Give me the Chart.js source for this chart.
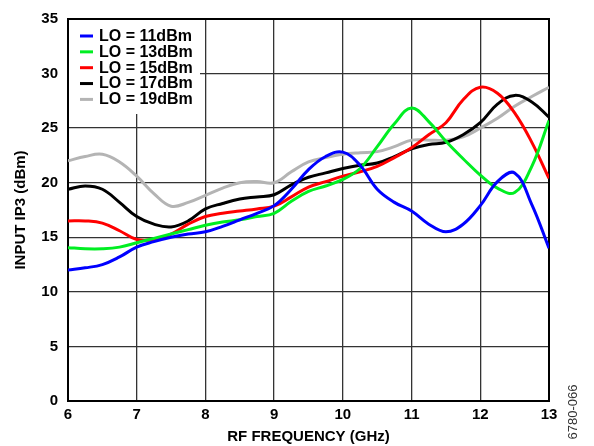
<!DOCTYPE html>
<html>
<head>
<meta charset="utf-8">
<script src="https://cdn.jsdelivr.net/npm/chart.js@4.4.1/dist/chart.umd.min.js"></script>
<style>
  body { margin: 0; background: #fff; }
  #wrap { width: 594px; height: 446px; }
</style>
</head>
<body>
<div id="wrap"><canvas id="ip3Chart" width="594" height="446"></canvas></div>
<script>
// RF frequency points (GHz)
var freqs = [6, 6.25, 6.5, 6.75, 7, 7.25, 7.5, 7.75, 8, 8.25, 8.5, 8.75, 9, 9.25, 9.5,
             9.75, 10, 10.25, 10.5, 10.75, 11, 11.25, 11.5, 11.75, 12, 12.25, 12.5, 12.75, 13];

// input IP3 (dBm) per LO level
var lo11 = [12.0, 12.2, 12.5, 13.2, 14.1, 14.6, 15.0, 15.3, 15.5, 16.0, 16.6, 17.2, 17.9, 19.4, 21.2,
            22.4, 22.8, 21.6, 19.4, 18.2, 17.4, 16.2, 15.5, 16.2, 17.9, 20.1, 20.9, 18.0, 14.0];
var lo13 = [14.05, 13.95, 13.95, 14.1, 14.5, 14.9, 15.3, 15.7, 16.1, 16.4, 16.6, 16.9, 17.2, 18.3, 19.2,
            19.7, 20.3, 21.3, 23.3, 25.4, 26.85, 25.6, 23.8, 22.2, 20.7, 19.5, 19.1, 21.5, 25.7];
var lo15 = [16.5, 16.5, 16.3, 15.6, 14.8, 14.8, 15.3, 16.2, 16.9, 17.2, 17.4, 17.6, 17.85, 18.7, 19.6,
            20.1, 20.6, 21.0, 21.5, 22.3, 23.2, 24.4, 25.5, 27.6, 28.75, 28.2, 26.4, 23.7, 20.4];
var lo17 = [19.4, 19.7, 19.4, 18.2, 16.9, 16.2, 15.95, 16.5, 17.6, 18.1, 18.5, 18.7, 18.9, 19.8, 20.5,
            20.9, 21.3, 21.6, 21.8, 22.4, 23.1, 23.5, 23.7, 24.4, 25.5, 27.2, 28.0, 27.4, 26.0];
var lo19 = [22.0, 22.4, 22.6, 21.9, 20.6, 19.0, 17.85, 18.2, 18.85, 19.5, 20.0, 20.1, 20.0, 21.0, 21.9,
            22.3, 22.6, 22.75, 22.85, 23.3, 23.9, 23.9, 23.9, 24.2, 25.0, 25.9, 27.0, 27.9, 28.75];

var seriesLabels = ['LO = 11dBm', 'LO = 13dBm', 'LO = 15dBm', 'LO = 17dBm', 'LO = 19dBm'];
var seriesColors = ['#0000ff', '#00ee22', '#ff0000', '#000000', '#b4b4b4'];
var seriesData = [lo11, lo13, lo15, lo17, lo19];

var yTicks = [0, 5, 10, 15, 20, 25, 30, 35];
var xTicks = [6, 7, 8, 9, 10, 11, 12, 13];

var FONT = '"Liberation Sans", Arial, sans-serif';

function toPoints(values) {
    return values.map(function (v, i) { return {x: freqs[i], y: v}; });
}

var datasets = seriesData.map(function (vals, i) {
    return {
        label: seriesLabels[i],
        data: toPoints(vals),
        borderColor: seriesColors[i],
        backgroundColor: seriesColors[i],
        borderWidth: 3,
        pointRadius: 0,
        tension: 0.4,
        fill: false
    };
});

// legend box inside the plot, frame and the side figure code
var extrasPlugin = {
    id: 'extras',
    beforeDatasetsDraw: function (chart) {
        var ctx = chart.ctx;
        var a = chart.chartArea;
        ctx.save();
        ctx.fillStyle = '#ffffff';
        ctx.fillRect(a.left + 1, a.top + 1, 131, 94);

        ctx.font = 'bold 16px ' + FONT;
        ctx.textBaseline = 'middle';
        ctx.textAlign = 'left';
        for (var i = 0; i < seriesLabels.length; i++) {
            var y = a.top + 17 + i * 15.85;
            ctx.strokeStyle = seriesColors[i];
            ctx.lineWidth = 3;
            ctx.beginPath();
            ctx.moveTo(a.left + 12, y);
            ctx.lineTo(a.left + 25, y);
            ctx.stroke();
            ctx.fillStyle = '#000';
            ctx.fillText(seriesLabels[i], a.left + 31, y + 0.5);
        }

        ctx.strokeStyle = '#000';
        ctx.lineWidth = 2;
        ctx.strokeRect(a.left, a.top, a.right - a.left, a.bottom - a.top);
        ctx.restore();
    },
    afterDraw: function (chart) {
        var ctx = chart.ctx;
        ctx.save();
        ctx.translate(573, 412);
        ctx.rotate(-Math.PI / 2);
        ctx.font = '13px ' + FONT;
        ctx.fillStyle = '#333';
        ctx.textAlign = 'center';
        ctx.textBaseline = 'middle';
        ctx.fillText('6780-066', 0, 0);
        ctx.restore();
    }
};

var ctx = document.getElementById('ip3Chart').getContext('2d');
var ip3Chart = new Chart(ctx, {
    type: 'line',
    data: {datasets: datasets},
    options: {
        responsive: false,
        animation: false,
        layout: {padding: {top: 16, right: 45, left: 0, bottom: 0}},
        plugins: {
            legend: {display: false},
            tooltip: {enabled: false}
        },
        scales: {
            x: {
                type: 'linear',
                min: 6,
                max: 13,
                afterFit: function (scale) { scale.height = 45; },
                afterBuildTicks: function (scale) {
                    scale.ticks = xTicks.map(function (v) { return {value: v}; });
                },
                grid: {color: '#333', lineWidth: 1.3, drawTicks: false},
                border: {color: '#000', width: 2},
                ticks: {
                    padding: 5,
                    color: '#000',
                    font: {family: FONT, size: 15, weight: 'bold'}
                },
                title: {
                    display: true,
                    text: 'RF FREQUENCY (GHz)',
                    color: '#000',
                    padding: {top: 0, bottom: 0},
                    font: {family: FONT, size: 15, weight: 'bold'}
                }
            },
            y: {
                min: 0,
                max: 35,
                afterFit: function (scale) { scale.width = 68; },
                afterBuildTicks: function (scale) {
                    scale.ticks = yTicks.map(function (v) { return {value: v}; });
                },
                grid: {color: '#333', lineWidth: 1.3, drawTicks: false},
                border: {color: '#000', width: 2},
                ticks: {
                    padding: 10,
                    color: '#000',
                    font: {family: FONT, size: 15, weight: 'bold'}
                },
                title: {
                    display: true,
                    text: 'INPUT IP3 (dBm)',
                    color: '#000',
                    padding: {top: 12, bottom: 0},
                    font: {family: FONT, size: 15, weight: 'bold'}
                }
            }
        }
    },
    plugins: [extrasPlugin]
});
</script>
</body>
</html>
